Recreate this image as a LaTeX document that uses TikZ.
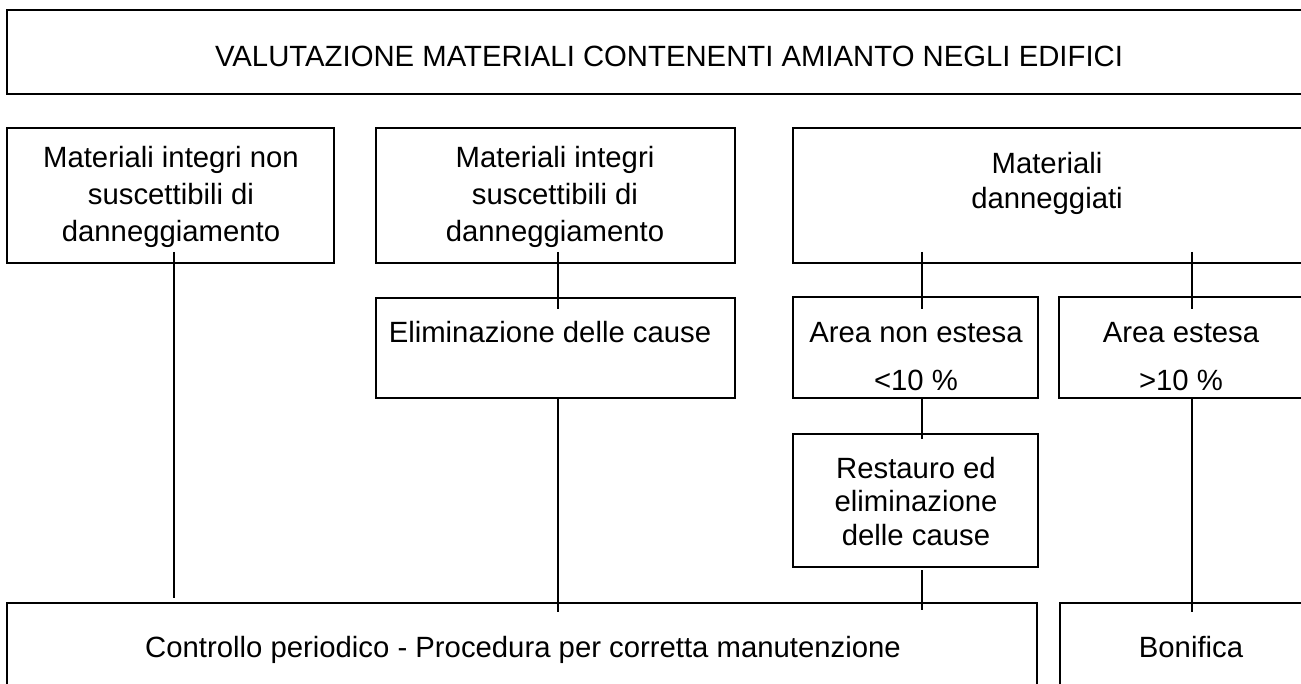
\documentclass[tikz,border=0pt]{standalone}
\usepackage{fontspec}
\setmainfont{Liberation Sans}
\usetikzlibrary{calc}
\begin{document}
\begin{tikzpicture}[x=1pt,y=-1pt,
  box/.style={draw, line width=2.6pt, inner sep=0pt, outer sep=0pt, anchor=north west},
  conn/.style={line width=1.8pt},
  txt/.style={inner sep=0pt, align=center, anchor=north, font=\fontsize{29.3}{36}\selectfont}]
\useasboundingbox (0,0) rectangle (1301,684);
\clip (0,0) rectangle (1301,684);
% boxes
\node[box, minimum width=1333pt, minimum height=84pt] (T) at (7,10) {};
\node[box, minimum width=327pt, minimum height=135pt] (A) at (7,128) {};
\node[box, minimum width=359pt, minimum height=135pt] (B) at (376,128) {};
\node[box, minimum width=550pt, minimum height=135pt] (C) at (793,128) {};
\node[box, minimum width=359pt, minimum height=100pt] (E) at (376,298) {};
\node[box, minimum width=245pt, minimum height=101pt] (N) at (793,297) {};
\node[box, minimum width=246pt, minimum height=101pt] (X) at (1059,297) {};
\node[box, minimum width=245pt, minimum height=133pt] (R) at (793,434) {};
\node[box, minimum width=1030pt, minimum height=120pt] (K) at (7,603) {};
\node[box, minimum width=290pt, minimum height=120pt] (Bn) at (1060,603) {};
% texts
\node[txt] (Tt) at (669,46) {VALUTAZIONE MATERIALI CONTENENTI AMIANTO NEGLI EDIFICI};
\node[txt] (At) at (171,146) {Materiali integri non\\[1pt] suscettibili di\\[1pt] danneggiamento};
\node[txt] (Bt) at (555,146) {Materiali integri\\[1pt] suscettibili di\\[1pt] danneggiamento};
\node[txt] (Ct) at (1047,152) {Materiali\\[-1pt] danneggiati};
\node[txt] (Et) at (550,321) {Eliminazione delle cause};
\node[txt] (Nt) at (916,322) {Area non estesa\\[12pt] <10 \%};
\node[txt] (Xt) at (1181,322) {Area estesa\\[12pt] >10 \%};
\node[txt] (Rt) at (916,457) {Restauro ed\\[-2.5pt] eliminazione\\[-2.5pt] delle cause};
\node[txt] (Kt) at (523,636) {Controllo periodico - Procedura per corretta manutenzione};
\node[txt] (Bnt) at (1191,636) {Bonifica};
% connectors
\draw[conn] ($(A.south)+(3.5,-11)$) -- ($(A.south |- K.north)+(3.5,-5)$);
\draw[conn] ($(B.south)+(2.5,-11)$) -- ($(E.north)+(2.5,11)$);
\draw[conn] ($(E.south)+(2.5,0)$) -- ($(E.south |- K.north)+(2.5,9)$);
\draw[conn] ($(C.south -| N.north)+(6.5,-11)$) -- ($(N.north)+(6.5,12)$);
\draw[conn] ($(N.south)+(6.5,0)$) -- ($(R.north)+(6.5,5)$);
\draw[conn] ($(R.south)+(6.5,3)$) -- ($(R.south |- K.north)+(6.5,7)$);
\draw[conn] ($(C.south -| X.north)+(10,-11)$) -- ($(X.north)+(10,12)$);
\draw[conn] ($(X.south)+(10,0)$) -- ($(X.south |- Bn.north)+(10,9)$);
\end{tikzpicture}
\end{document}
